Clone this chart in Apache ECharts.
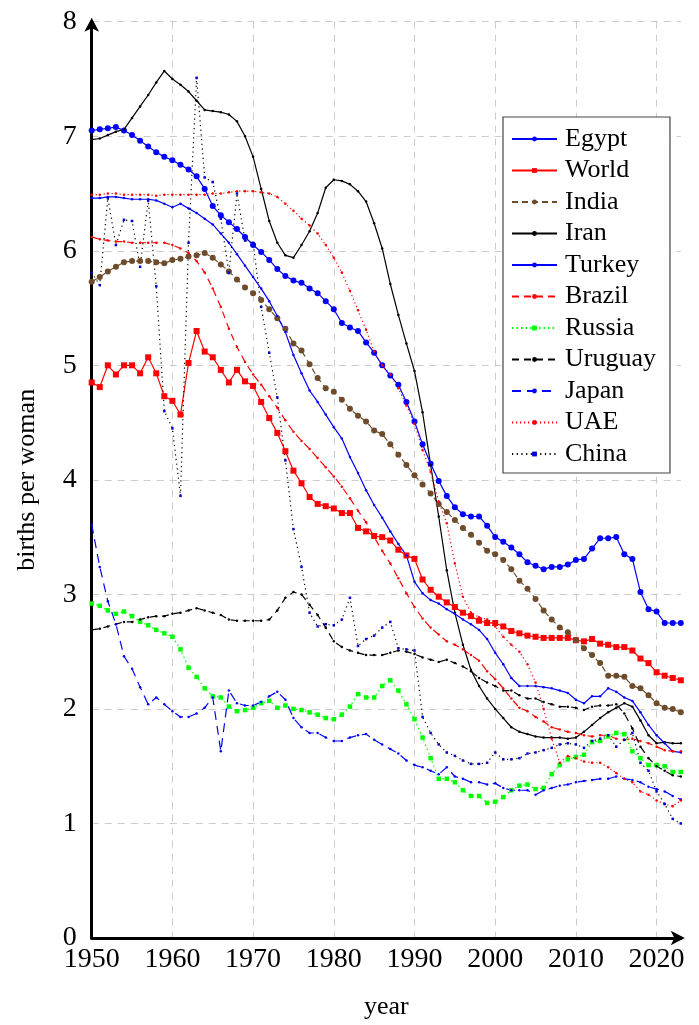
<!DOCTYPE html>
<html><head><meta charset="utf-8">
<script src="https://cdn.jsdelivr.net/npm/echarts@6/dist/echarts.min.js"></script>
<style>html,body{margin:0;padding:0;background:#fff}#c{width:699px;height:1025px}</style>
</head><body><div id="c"></div><script>
const firstYear = 1950, lastYear = 2023;
const years = [];
for (let y = firstYear; y <= lastYear; y++) years.push(y);

const egypt = [7.05,7.06,7.07,7.08,7.05,7.01,6.96,6.91,6.86,6.82,
 6.79,6.75,6.71,6.65,6.54,6.39,6.31,6.25,6.19,6.12,
 6.05,5.99,5.92,5.84,5.78,5.74,5.72,5.67,5.63,5.56,
 5.49,5.37,5.33,5.30,5.20,5.11,5.00,4.91,4.83,4.68,
 4.51,4.31,4.14,3.99,3.86,3.76,3.70,3.68,3.68,3.60,
 3.50,3.46,3.41,3.35,3.28,3.25,3.22,3.24,3.24,3.26,
 3.30,3.31,3.40,3.49,3.49,3.50,3.35,3.31,3.02,2.87,
 2.85,2.75,2.75,2.75];
const world = [4.85,4.81,5.00,4.92,5.00,5.00,4.93,5.07,4.93,4.73,
 4.69,4.57,5.02,5.30,5.12,5.07,4.96,4.85,4.96,4.86,
 4.82,4.68,4.54,4.41,4.25,4.08,3.97,3.85,3.79,3.77,
 3.75,3.71,3.71,3.58,3.55,3.51,3.50,3.47,3.39,3.34,
 3.31,3.13,3.04,2.98,2.93,2.89,2.84,2.81,2.77,2.75,
 2.75,2.72,2.68,2.66,2.64,2.63,2.62,2.62,2.62,2.62,
 2.60,2.59,2.61,2.57,2.56,2.54,2.54,2.51,2.44,2.40,
 2.32,2.29,2.27,2.25];
const india = [5.73,5.77,5.82,5.86,5.90,5.91,5.91,5.91,5.90,5.89,
 5.92,5.93,5.95,5.96,5.98,5.94,5.88,5.82,5.75,5.68,
 5.63,5.57,5.49,5.41,5.32,5.19,5.13,5.01,4.89,4.80,
 4.77,4.70,4.62,4.56,4.51,4.43,4.40,4.31,4.22,4.13,
 4.04,3.96,3.88,3.79,3.72,3.65,3.58,3.52,3.45,3.38,
 3.35,3.30,3.22,3.12,3.05,2.96,2.86,2.78,2.71,2.67,
 2.60,2.53,2.47,2.40,2.29,2.29,2.28,2.20,2.18,2.12,
 2.05,2.01,2.00,1.97];
const iran = [6.97,6.98,7.01,7.04,7.06,7.16,7.26,7.36,7.47,7.57,
 7.50,7.45,7.39,7.31,7.23,7.22,7.21,7.19,7.13,7.00,
 6.82,6.54,6.26,6.07,5.96,5.94,6.05,6.17,6.33,6.55,
 6.62,6.61,6.58,6.52,6.43,6.24,6.02,5.71,5.44,5.19,
 4.95,4.59,4.13,3.68,3.21,2.84,2.56,2.34,2.20,2.09,
 2.00,1.92,1.84,1.80,1.78,1.76,1.75,1.75,1.75,1.74,
 1.75,1.80,1.86,1.92,1.97,2.01,2.05,2.02,1.90,1.77,
 1.70,1.71,1.70,1.70];
const turkey = [6.46,6.46,6.47,6.47,6.46,6.45,6.45,6.45,6.44,6.41,
 6.38,6.41,6.37,6.33,6.28,6.23,6.15,6.07,5.97,5.87,
 5.77,5.67,5.56,5.43,5.29,5.09,4.93,4.78,4.68,4.57,
 4.46,4.36,4.20,4.06,3.91,3.78,3.67,3.55,3.44,3.34,
 3.11,3.01,2.95,2.92,2.87,2.83,2.78,2.74,2.69,2.61,
 2.49,2.39,2.27,2.20,2.20,2.20,2.19,2.18,2.16,2.14,
 2.08,2.05,2.11,2.11,2.18,2.15,2.10,2.07,1.97,1.86,
 1.77,1.70,1.63,1.62];
const brazil = [6.12,6.10,6.09,6.08,6.08,6.07,6.07,6.07,6.07,6.07,
 6.05,6.02,5.98,5.91,5.81,5.67,5.51,5.32,5.16,5.03,
 4.92,4.83,4.73,4.63,4.52,4.42,4.34,4.27,4.19,4.11,
 4.03,3.94,3.84,3.73,3.63,3.50,3.38,3.27,3.14,3.01,
 2.89,2.79,2.71,2.65,2.59,2.56,2.52,2.47,2.42,2.33,
 2.26,2.18,2.09,2.01,1.98,1.93,1.89,1.84,1.82,1.80,
 1.79,1.77,1.76,1.77,1.77,1.74,1.73,1.74,1.72,1.70,
 1.67,1.64,1.63,1.63];
const russia = [2.92,2.90,2.86,2.83,2.85,2.81,2.76,2.73,2.69,2.66,
 2.63,2.52,2.36,2.28,2.18,2.11,2.10,2.02,1.98,1.99,
 2.01,2.05,2.07,2.01,2.03,2.00,1.99,1.97,1.95,1.92,
 1.91,1.95,2.02,2.13,2.10,2.10,2.20,2.25,2.16,2.04,
 1.91,1.75,1.57,1.39,1.39,1.36,1.29,1.24,1.24,1.18,
 1.19,1.23,1.29,1.33,1.34,1.30,1.31,1.43,1.51,1.56,
 1.58,1.60,1.71,1.72,1.76,1.79,1.78,1.63,1.57,1.51,
 1.51,1.50,1.45,1.45];
const uruguay = [2.69,2.70,2.72,2.74,2.76,2.76,2.78,2.80,2.81,2.81,
 2.83,2.84,2.86,2.88,2.86,2.84,2.82,2.78,2.77,2.77,
 2.77,2.77,2.78,2.86,2.97,3.02,3.00,2.91,2.82,2.71,
 2.59,2.54,2.51,2.49,2.47,2.47,2.47,2.49,2.51,2.50,
 2.48,2.45,2.43,2.41,2.43,2.40,2.37,2.33,2.27,2.23,
 2.20,2.16,2.16,2.12,2.09,2.09,2.06,2.04,2.02,2.02,
 2.01,1.99,2.02,2.03,2.03,2.04,1.96,1.83,1.67,1.57,
 1.50,1.46,1.42,1.41];
const japan = [3.61,3.24,2.94,2.74,2.46,2.35,2.19,2.04,2.10,2.04,
 1.98,1.93,1.93,1.96,2.01,2.10,1.63,2.16,2.05,2.03,
 2.03,2.06,2.11,2.15,2.08,1.92,1.84,1.79,1.79,1.75,
 1.72,1.72,1.75,1.77,1.78,1.73,1.69,1.65,1.61,1.55,
 1.51,1.49,1.46,1.43,1.49,1.41,1.39,1.36,1.36,1.34,
 1.35,1.31,1.29,1.29,1.29,1.25,1.29,1.31,1.33,1.34,
 1.36,1.37,1.38,1.39,1.39,1.41,1.39,1.38,1.36,1.32,
 1.30,1.28,1.24,1.21];
const uae = [6.49,6.49,6.50,6.50,6.49,6.49,6.49,6.49,6.48,6.49,
 6.49,6.49,6.49,6.49,6.49,6.50,6.50,6.51,6.52,6.52,
 6.52,6.51,6.50,6.47,6.41,6.35,6.28,6.22,6.15,6.05,
 5.94,5.81,5.65,5.48,5.31,5.12,5.00,4.92,4.80,4.65,
 4.49,4.26,4.07,3.81,3.62,3.27,2.98,2.84,2.80,2.78,
 2.72,2.63,2.56,2.50,2.39,2.23,2.00,1.74,1.53,1.59,
 1.57,1.54,1.53,1.53,1.49,1.44,1.39,1.36,1.28,1.25,
 1.20,1.17,1.15,1.20];
const china = [5.81,5.70,6.46,6.05,6.27,6.26,5.86,6.44,5.69,4.60,
 4.45,3.86,6.07,7.51,6.64,6.60,6.28,5.81,6.50,6.09,
 6.07,5.51,5.11,4.72,4.17,3.57,3.24,2.84,2.72,2.74,
 2.73,2.78,2.97,2.55,2.61,2.64,2.71,2.76,2.53,2.52,
 2.51,1.93,1.79,1.69,1.62,1.59,1.55,1.52,1.52,1.53,
 1.62,1.56,1.56,1.57,1.61,1.62,1.64,1.66,1.69,1.70,
 1.69,1.66,1.72,1.74,1.77,1.67,1.73,1.79,1.53,1.46,
 1.28,1.17,1.04,1.00];

const xTicks = [1950,1960,1970,1980,1990,2000,2010,2020];
const yTicks = [0,1,2,3,4,5,6,7,8];

const FONT = '"Liberation Serif", "Times New Roman", serif';
const pairs = arr => arr.map((v, i) => [years[i], v]);

function mk(name, arr, lineColor, dash, symbol, symSize, markColor) {
  return {
    name, type: 'line', data: pairs(arr), symbol, symbolSize: symSize,
    showAllSymbol: true, animation: false,
    lineStyle: { color: lineColor, width: 1.2, type: dash },
    itemStyle: { color: markColor || lineColor, borderWidth: 0 },
    emphasis: { disabled: true }
  };
}

const series = [
  mk('Egypt', egypt, '#0000ff', 'solid', 'circle', 6),
  mk('World', world, '#ff0000', 'solid', 'rect', 6),
  mk('India', india, '#6e4b2a', [6,4], 'circle', 6),
  mk('Iran', iran, '#000000', 'solid', 'circle', 2.5),
  mk('Turkey', turkey, '#0000ff', 'solid', 'circle', 2.5),
  mk('Brazil', brazil, '#ff0000', [7,5], 'circle', 2.5),
  mk('Russia', russia, '#00ff00', [1.5,3], 'rect', 4.5),
  mk('Uruguay', uruguay, '#000000', [7,5], 'circle', 2.5),
  mk('Japan', japan, '#0000ff', [9,6], 'circle', 2.5),
  mk('UAE', uae, '#ff0000', [1.2,2.8], 'circle', 2.5),
  mk('China', china, '#000000', [1.2,3.5], 'rect', 2.5, '#0000cc')
];

const chart = echarts.init(document.getElementById('c'), null, {renderer: 'canvas'});
chart.setOption({
  animation: false,
  backgroundColor: '#ffffff',
  grid: { left: 91.7, right: 18.2, top: 21.7, bottom: 76, containLabel: false },
  legend: {
    orient: 'vertical', left: 503, top: 117,
    data: series.map(s => s.name),
    itemWidth: 45, itemHeight: 6, itemGap: 5.5,
    padding: [9, 14, 6, 8],
    borderColor: '#444', borderWidth: 1.2,
    backgroundColor: '#fff',
    textStyle: { fontFamily: FONT, fontSize: 26, color: '#000', lineHeight: 26, padding: [0,0,0,3] },
    selectedMode: false
  },
  xAxis: {
    type: 'value', min: firstYear, max: lastYear, interval: 10,
    name: 'year', nameLocation: 'middle', nameGap: 56,
    nameTextStyle: { fontFamily: FONT, fontSize: 26, color: '#000' },
    axisLine: { show: true, onZero: false, symbol: ['none', 'arrow'], symbolSize: [11, 14], symbolOffset: [0, 4],
      lineStyle: { color: '#000', width: 3 } },
    axisTick: { show: false },
    axisLabel: { fontFamily: FONT, fontSize: 28, color: '#000', margin: 8, showMaxLabel: false,
      formatter: v => xTicks.includes(v) ? String(v) : '' },
    splitLine: { show: true, showMaxLine: false, lineStyle: { color: '#cccccc', width: 1, type: [7, 6] } }
  },
  yAxis: {
    type: 'value', min: 0, max: 8, interval: 1,
    name: 'births per woman', nameLocation: 'middle', nameGap: 52, nameRotate: 90,
    nameTextStyle: { fontFamily: FONT, fontSize: 26, color: '#000' },
    axisLine: { show: true, onZero: false, symbol: ['none', 'arrow'], symbolSize: [11, 14], symbolOffset: [0, 4],
      lineStyle: { color: '#000', width: 3 } },
    axisTick: { show: false },
    axisLabel: { fontFamily: FONT, fontSize: 28, color: '#000', margin: 15,
      formatter: v => yTicks.includes(v) ? String(v) : '' },
    splitLine: { show: true, lineStyle: { color: '#cccccc', width: 1, type: [7, 6] } }
  },
  series
});
</script></body></html>
